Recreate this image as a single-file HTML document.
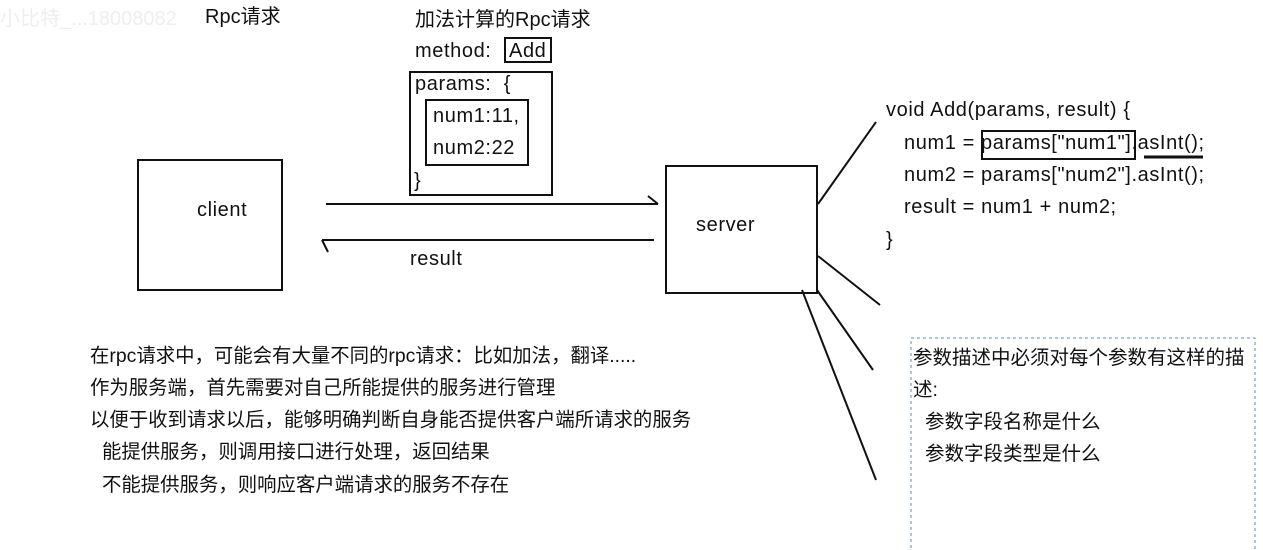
<!DOCTYPE html>
<html><head><meta charset="utf-8"><style>
body{margin:0;background:#fff;width:1263px;height:550px;overflow:hidden;position:relative;font-family:"Liberation Sans","Noto Sans CJK SC",sans-serif;color:#111}
.t{position:absolute;white-space:nowrap;font-size:20px;line-height:22px}
.c{font-size:20px;letter-spacing:0.6px}
.z{font-size:19.4px}
</style></head><body>
<svg width="1263" height="550" style="position:absolute;left:0;top:0" fill="none" stroke="#111" stroke-width="2">
<rect x="138" y="160" width="144" height="130"/>
<rect x="666" y="166" width="151" height="127"/>
<rect x="410" y="72" width="142" height="123"/>
<rect x="426" y="100" width="102" height="65"/>
<rect x="505" y="38" width="46" height="24"/>
<rect x="982" y="131" width="153" height="28"/>
<line x1="1144" y1="157" x2="1203" y2="157" stroke-width="3"/>
<line x1="326" y1="204" x2="658" y2="204"/>
<line x1="648" y1="196" x2="658" y2="204"/>
<line x1="322" y1="240" x2="654" y2="240"/>
<line x1="322" y1="240" x2="328" y2="252"/>
<line x1="818" y1="204" x2="876" y2="122"/>
<line x1="818" y1="256" x2="880" y2="305"/>
<line x1="817" y1="290" x2="873" y2="370"/>
<line x1="802" y1="290" x2="876" y2="480"/>
<rect x="911" y="338" width="344" height="220" stroke="#5b8fc7" stroke-width="1" stroke-dasharray="3,3"/>
</svg>
<div class="t" style="left:0;top:8px;color:#eee">小比特_...18008082</div>
<div class="t" style="left:205px;top:6px">Rpc请求</div>
<div class="t" style="left:415px;top:9px">加法计算的Rpc请求</div>
<div class="t c" style="left:415px;top:40px">method:</div>
<div class="t c" style="left:509px;top:40px">Add</div>
<div class="t c" style="left:415px;top:73px">params: &nbsp;{</div>
<div class="t c" style="left:433px;top:105px">num1:11,</div>
<div class="t c" style="left:433px;top:137px">num2:22</div>
<div class="t" style="left:414px;top:170px">}</div>
<div class="t c" style="left:197px;top:199px">client</div>
<div class="t c" style="left:696px;top:214px">server</div>
<div class="t c" style="left:410px;top:248px">result</div>
<div class="t c" style="left:886px;top:99px">void Add(params, result) {</div>
<div class="t c" style="left:904px;top:132px">num1 = params["num1"].asInt();</div>
<div class="t c" style="left:904px;top:164px">num2 = params["num2"].asInt();</div>
<div class="t c" style="left:904px;top:196px">result = num1 + num2;</div>
<div class="t" style="left:886px;top:229px">}</div>
<div class="t" style="left:913px;top:347px;font-size:19.5px">参数描述中必须对每个参数有这样的描</div>
<div class="t" style="left:913px;top:379px;font-size:19.5px">述:</div>
<div class="t" style="left:925px;top:411px;font-size:19.5px">参数字段名称是什么</div>
<div class="t" style="left:925px;top:443px;font-size:19.5px">参数字段类型是什么</div>
<div class="t z" style="left:90px;top:345px">在rpc请求中，可能会有大量不同的rpc请求：比如加法，翻译.....</div>
<div class="t z" style="left:90px;top:377px">作为服务端，首先需要对自己所能提供的服务进行管理</div>
<div class="t z" style="left:90px;top:409px">以便于收到请求以后，能够明确判断自身能否提供客户端所请求的服务</div>
<div class="t z" style="left:102px;top:441px">能提供服务，则调用接口进行处理，返回结果</div>
<div class="t z" style="left:102px;top:474px">不能提供服务，则响应客户端请求的服务不存在</div>
</body></html>
